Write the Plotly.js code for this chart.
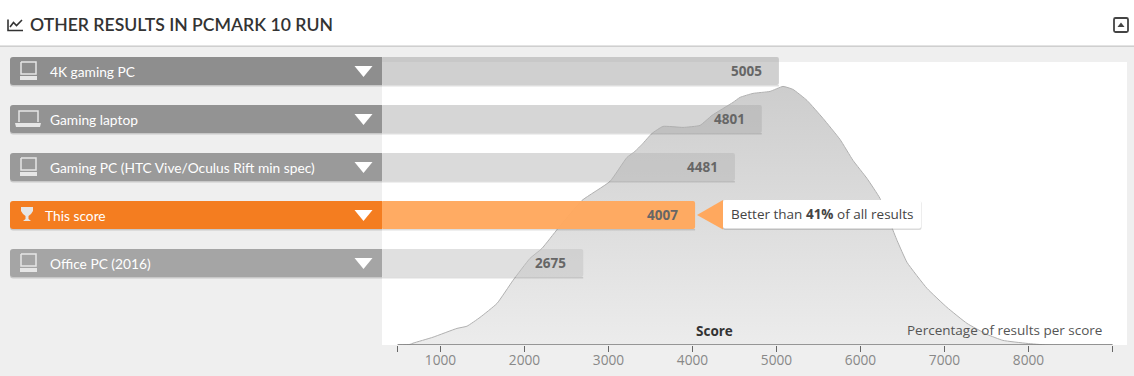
<!DOCTYPE html>
<html>
<head>
<meta charset="utf-8">
<script src="https://cdn.plot.ly/plotly-3.0.1.min.js"></script>
<style>html,body{margin:0;padding:0;background:#efefef;overflow:hidden}#chart{width:1134px;height:376px}</style>
</head>
<body>
<div id="chart"></div>
<script>
// ---- data ----
const categories = ["4K gaming PC", "Gaming laptop", "Gaming PC (HTC Vive/Oculus Rift min spec)", "This score", "Office PC (2016)"];
const scores = [5005, 4801, 4481, 4007, 2675];
const headerColors = ["#8e8e8e", "#939393", "#9a9a9a", "#f47d20", "#a5a5a5"];
const barColors = ["rgba(161,161,161,.5)", "rgba(173,173,173,.5)", "rgba(181,181,181,.5)", "rgba(255,168,94,.97)", "rgba(193,193,193,.5)"];
const icons = ["desktop", "laptop", "desktop", "trophy", "desktop"];
const distScore = [490,637,672,911,1196,1315,1470,1673,1863,2065,2208,2399,2685,3018,3220,3315,3399,3518,3649,3887,4089,4232,4482,4565,4720,4923,5077,5196,5363,5554,5756,5911,6077,6232,6435,6554,6792,7030,7268,7506,7696,7982,8220,9000];
const distValue = [0,0.03,0.09,0.39,0.83,0.94,1.38,2.08,3.23,4.33,4.83,5.83,7.23,8.18,9.38,9.68,10.03,10.58,10.93,10.88,10.98,11.48,12.13,12.38,12.58,12.68,12.93,12.78,12.23,11.33,10.28,9.23,8.33,7.33,5.23,4.13,2.83,1.88,1.08,0.53,0.23,0.08,0,0];
const tickVals = [490,1000,2000,3000,4000,5000,6000,7000,8000,9000];
const tickText = ["","1000","2000","3000","4000","5000","6000","7000","8000",""];
const betterThan = 41;
const titleText = "OTHER RESULTS IN PCMARK 10 RUN";

// ---- page geometry ----
const W = 1134, H = 376;
const px = x => x / W, py = y => 1 - y / H;
const PER_PX = 1 / 0.084;                          // score units per pixel
const axisVal = p => 1000 + (p - 440.5) * PER_PX;  // plot axis
const barVal = p => 1000 + (p - 442.5) * PER_PX;   // bars end 2px past their tick position
const rowPitch = 48, firstRow = 71;
const rowTop = i => firstRow + i * rowPitch - 14, rowBot = i => firstRow + i * rowPitch + 14;

function rr(x0, y0, x1, y1, r, rl, rr2) {
  const X = px, Y = py;
  const a = rl === undefined ? r : rl, b = rr2 === undefined ? r : rr2;
  return `M ${X(x0 + a)} ${Y(y0)} L ${X(x1 - b)} ${Y(y0)} Q ${X(x1)} ${Y(y0)} ${X(x1)} ${Y(y0 + b)} L ${X(x1)} ${Y(y1 - b)} Q ${X(x1)} ${Y(y1)} ${X(x1 - b)} ${Y(y1)} L ${X(x0 + a)} ${Y(y1)} Q ${X(x0)} ${Y(y1)} ${X(x0)} ${Y(y1 - a)} L ${X(x0)} ${Y(y0 + a)} Q ${X(x0)} ${Y(y0)} ${X(x0 + a)} ${Y(y0)} Z`;
}
const poly = pts => "M " + pts.map(p => `${px(p[0])} ${py(p[1])}`).join(" L ") + " Z";
const lineP = pts => "M " + pts.map(p => `${px(p[0])} ${py(p[1])}`).join(" L ");
const fillS = (path, color, layer) => ({type: "path", xref: "paper", yref: "paper", path, fillcolor: color, line: {width: 0}, layer: layer || "above"});
const strokeS = (path, color, w) => ({type: "path", xref: "paper", yref: "paper", path, fillcolor: "rgba(0,0,0,0)", line: {color, width: w}, layer: "above"});

const shapes = [];
// page bands
shapes.push(fillS(poly([[0,0],[W,0],[W,45.5],[0,45.5]]), "#ffffff", "below"));
shapes.push(fillS(poly([[0,45.5],[W,45.5],[W,47],[0,47]]), "#cfcfcf", "below"));
shapes.push(fillS(poly([[382,62],[1127,62],[1127,345],[382,345]]), "#ffffff", "below"));
// axis line
shapes.push({type: "line", xref: "x", yref: "y", x0: tickVals[0], x1: tickVals[tickVals.length - 1], y0: 0, y1: 0, line: {color: "#7a7a7a", width: 1.5}, layer: "above"});

// row headers
categories.forEach((c, i) => {
  const t = rowTop(i), b = rowBot(i), m = firstRow + i * rowPitch;
  shapes.push(fillS(rr(10, t + 1, 382, b + 1.5, 3, 3, 0), "rgba(0,0,0,.16)"));
  shapes.push(fillS(rr(10, t, 382, b, 3, 3, 0), headerColors[i]));
  shapes.push(fillS(poly([[354.5, m - 5], [372.5, m - 5], [363.5, m + 6]]), "#ffffff"));
  const ic = "#e6e6e6";
  if (icons[i] === "desktop") {
    shapes.push(strokeS(lineP([[21, m-9],[36, m-9],[36, m+3],[21, m+3],[21, m-9]]), ic, 1.5));
    shapes.push(fillS(poly([[20, m+5],[37, m+5],[37, m+9],[20, m+9]]), ic));
  } else if (icons[i] === "laptop") {
    shapes.push(strokeS(lineP([[19, m+3],[19, m-8],[38, m-8],[38, m+3]]), ic, 1.5));
    shapes.push(fillS(poly([[15, m+4],[41, m+4],[40, m+8],[16, m+8]]), ic));
  } else {
    shapes.push(fillS(poly([[21, m-8],[33, m-8],[33, m-4],[31, m-1],[28.5, m+1],[28.5, m+4],[31, m+6],[23, m+6],[25.5, m+4],[25.5, m+1],[23, m-1],[21, m-4]]), ic));
  }
});

// tooltip
const tipM = firstRow + 3 * rowPitch;
shapes.push(fillS(rr(723, tipM - 14, 921.5, tipM + 15, 2), "rgba(0,0,0,.14)"));
shapes.push(fillS(rr(723, tipM - 15, 921, tipM + 13.5, 2), "#ffffff"));
shapes.push(fillS(poly([[697, tipM], [723, tipM - 15], [723, tipM + 14.5]]), "#ffa85e"));

// title glyph
shapes.push(strokeS(lineP([[8, 19.5],[8, 30.5],[23, 30.5]]), "#333333", 1.6));
shapes.push(strokeS(lineP([[10, 27],[13.5, 22.5],[16.5, 25.5],[22, 20]]), "#333333", 1.6));
// collapse button
shapes.push(strokeS(rr(1114, 18, 1128, 32, 1.5), "#444444", 1.8));
shapes.push(fillS(poly([[1117.5, 27],[1124.5, 27],[1121, 22.5]]), "#444444"));

const annotations = [];
const lblFont = {family: "Lato, 'Open Sans', sans-serif", size: 13.75, color: "#ffffff"};
categories.forEach((c, i) => {
  annotations.push({xref: "paper", yref: "y2", x: px(icons[i] === "trophy" ? 43 : 47.5), y: i, xanchor: "left", yanchor: "middle", showarrow: false, text: c, font: lblFont});
  annotations.push({xref: "x2", yref: "y2", x: scores[i], y: i, xanchor: "right", yanchor: "middle", xshift: -15, showarrow: false, text: "<b>" + scores[i] + "</b>", font: {family: "Open Sans, sans-serif", size: 13.5, color: "#666666"}});
});
annotations.push({xref: "paper", yref: "paper", x: px(729), y: py(tipM - 1), xanchor: "left", yanchor: "middle", showarrow: false, text: "Better than <b>" + betterThan + "%</b> of all results", font: {family: "Open Sans, sans-serif", size: 13.5, color: "#444444"}});
annotations.push({xref: "paper", yref: "paper", x: px(714), y: py(330.5), xanchor: "center", yanchor: "middle", showarrow: false, text: "<b>Score</b>", font: {family: "Open Sans, sans-serif", size: 13.5, color: "#333333"}});
annotations.push({xref: "paper", yref: "paper", x: px(1103.5), y: py(329.5), xanchor: "right", yanchor: "middle", showarrow: false, text: "Percentage of results per score", font: {family: "Open Sans, sans-serif", size: 13.5, color: "#555555"}});

const barWidth = 28 / rowPitch;
const traces = [
  {type: "scatter", mode: "lines", x: distScore, y: distValue, xaxis: "x", yaxis: "y",
   line: {color: "#b0b0b0", width: 1, shape: "spline", smoothing: 0.4},
   fill: "tozeroy",
   fillgradient: {type: "vertical", colorscale: [[0, "#ececec"], [1, "#cdcdcd"]]},
   hoverinfo: "skip"},
  {type: "bar", orientation: "h", x: scores.map(s => s - barVal(382)), base: barVal(382), y: categories, xaxis: "x2", yaxis: "y2",
   width: 1.5 / rowPitch, offset: 14 / rowPitch, marker: {color: "rgba(0,0,0,.13)", line: {width: 0}}, hoverinfo: "skip"},
  {type: "bar", orientation: "h", x: scores.map(s => s - barVal(381)), base: barVal(381), y: categories, xaxis: "x2", yaxis: "y2",
   width: barWidth, marker: {color: barColors, line: {width: 0}, cornerradius: 2}, hoverinfo: "skip"}
];

const layout = {
  width: W, height: H,
  margin: {l: 0, r: 0, t: 0, b: 0},
  paper_bgcolor: "#efefef",
  plot_bgcolor: "rgba(0,0,0,0)",
  showlegend: false,
  barmode: "overlay",
  title: {text: titleText, x: px(30), xanchor: "left", xref: "paper", y: py(24.5), yanchor: "middle", yref: "paper", font: {family: "Lato, sans-serif", size: 17.6, weight: 600, color: "#333333"}},
  xaxis: {domain: [px(382), px(1127)], range: [axisVal(382), axisVal(1127)], tickmode: "array", tickvals: tickVals, ticktext: tickText,
          ticks: "outside", ticklen: 6, tickwidth: 1, tickcolor: "#666666", showgrid: false, zeroline: false, showline: false,
          ticklabelstandoff: -3,
          tickfont: {family: "Open Sans, sans-serif", size: 13.7, color: "#888888"}, anchor: "y"},
  yaxis: {domain: [py(345), py(62)], range: [0, 283 / 20], visible: false, anchor: "x", fixedrange: true},
  xaxis2: {domain: [0, 1], range: [barVal(0), barVal(W)], visible: false, anchor: "y2"},
  yaxis2: {domain: [0, 1], type: "category", categoryorder: "array", categoryarray: categories,
           range: [(H - firstRow) / rowPitch, -firstRow / rowPitch], visible: false, anchor: "x2"},
  shapes, annotations
};
Plotly.newPlot("chart", traces, layout, {displayModeBar: false, staticPlot: true});
</script>
</body>
</html>
